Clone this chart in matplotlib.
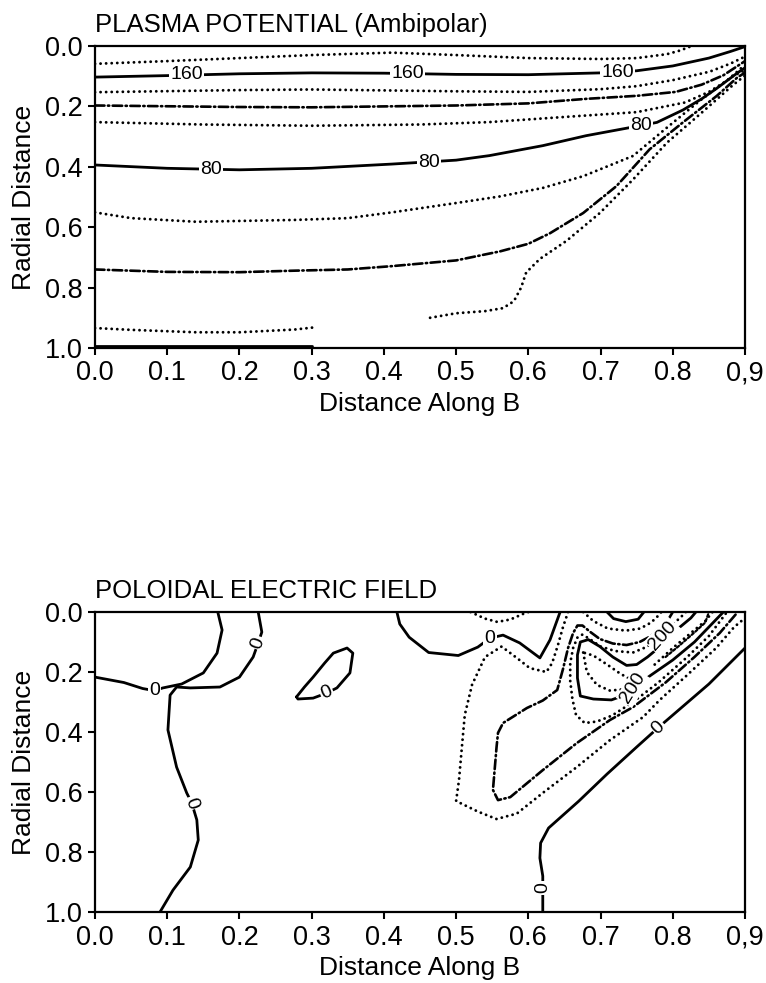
import matplotlib
matplotlib.use('Agg')
import matplotlib.pyplot as plt

plt.rcParams['font.family'] = ['Liberation Sans', 'DejaVu Sans']

# ---------------- PLASMA POTENTIAL (Ambipolar) ----------------
# contour lines: (distance along B, radial distance)
pp_dot_1 = [(0, .059), (.1, .05), (.2, .04), (.3, .03), (.411, .022), (.5, .03), (.6, .04),
            (.7, .043), (.75, .04), (.792, .027), (.81, .015), (.824, .002)]
pp_160 = [(0, .103), (.1, .098), (.2, .092), (.3, .089), (.4, .09), (.5, .094), (.6, .095),
          (.7, .089), (.75, .082), (.8, .066), (.85, .04), (.88, .018), (.9, .002)]
pp_dot_2 = [(0, .153), (.2, .146), (.3, .144), (.5, .15), (.6, .152), (.7, .143), (.75, .133),
            (.8, .113), (.851, .085), (.88, .058), (.9, .035)]
pp_dash_1 = [(0, .197), (.2, .202), (.3, .203), (.5, .197), (.6, .19), (.68, .175), (.75, .165),
             (.804, .152), (.84, .128), (.87, .097), (.9, .05)]
pp_dot_3 = [(0, .252), (.15, .26), (.3, .264), (.45, .26), (.546, .252), (.65, .235), (.75, .219),
            (.817, .187), (.85, .152), (.875, .115), (.9, .062)]
pp_80 = [(0, .394), (.1, .405), (.2, .41), (.3, .405), (.411, .391), (.5, .378), (.546, .363),
         (.62, .33), (.68, .297), (.741, .27), (.778, .253), (.814, .212), (.84, .175),
         (.861, .14), (.889, .09), (.9, .072)]
pp_dot_4 = [(0, .551), (.05, .57), (.14, .582), (.276, .576), (.35, .57), (.411, .551), (.5, .52),
            (.561, .498), (.62, .47), (.676, .431), (.745, .364), (.792, .27), (.838, .18),
            (.883, .1), (.9, .08)]
pp_dash_2 = [(0, .74), (.1, .748), (.2, .749), (.276, .744), (.35, .74), (.411, .729), (.5, .71),
             (.561, .68), (.6, .655), (.63, .62), (.676, .553), (.722, .464), (.768, .342),
             (.814, .253), (.861, .165), (.889, .105), (.9, .088)]
pp_dot_5 = [(.464, .9), (.5, .885), (.54, .878), (.565, .868), (.58, .845), (.59, .8), (.597, .75),
            (.616, .705), (.653, .645), (.699, .553), (.745, .442), (.792, .32), (.838, .225),
            (.883, .13), (.9, .098)]
pp_dot_6 = [(0, .934), (.05, .94), (.14, .948), (.2, .948), (.276, .939), (.303, .932)]
pp_edge = [(0, .995), (.3, .995)]

pp_labels = [(.127, .096, '160', 0), (.433, .092, '160', 0), (.724, .088, '160', 0),
             (.16, .41, '80', 0), (.462, .385, '80', 0), (.756, .264, '80', 0)]

# ---------------- POLOIDAL ELECTRIC FIELD ----------------
ef_zero_a = [(0, .217), (.04, .235), (.066, .255), (.082, .262), (.094, .253), (.12, .24),
             (.15, .203), (.169, .137), (.176, .06), (.17, 0)]
ef_zero_b = [(.226, 0), (.231, .067), (.226, .103), (.219, .15), (.2, .217), (.173, .25),
             (.132, .253), (.113, .25), (.104, .277), (.101, .393), (.113, .517), (.127, .603),
             (.134, .637), (.141, .693), (.143, .76), (.132, .85), (.108, .927), (.09, 1.0)]
ef_zero_c = [(.279, .283), (.29, .25), (.302, .217), (.318, .17), (.33, .137), (.349, .12),
             (.357, .137), (.353, .203), (.335, .253), (.321, .27), (.302, .287), (.281, .29),
             (.279, .283)]
ef_zero_d = [(.418, 0), (.422, .04), (.435, .084), (.462, .135), (.503, .145), (.53, .117),
             (.547, .087), (.565, .077), (.588, .103), (.616, .153), (.63, .093), (.644, 0)]
ef_zero_e = [(.62, 1.0), (.62, .96), (.62, .92), (.62, .88), (.616, .82), (.617, .77),
             (.628, .72), (.67, .63), (.709, .54), (.75, .45), (.78, .385), (.85, .24), (.9, .12)]
ef_dot_top = [(.52, 0), (.54, .022), (.557, .033), (.575, .025), (.594, .005), (.6, 0)]
ef_dot_outer = [(.655, 0), (.648, .05), (.641, .11), (.633, .17), (.625, .2), (.602, .187),
                (.584, .153), (.563, .115), (.54, .15), (.522, .243), (.512, .343), (.508, .45),
                (.504, .56), (.5, .63), (.53, .665), (.556, .69), (.584, .672), (.62, .603),
                (.667, .517), (.713, .427), (.759, .35), (.782, .293), (.82, .21), (.86, .12),
                (.885, .05), (.9, .02)]
ef_dash = [(.8, 0), (.795, .02), (.785, .045), (.77, .08), (.754, .1), (.736, .11), (.717, .105),
           (.699, .09), (.685, .065), (.675, .045), (.668, .045), (.662, .07), (.655, .12),
           (.648, .19), (.64, .26), (.62, .295), (.598, .32), (.565, .37), (.558, .403),
           (.556, .45), (.551, .593), (.558, .627), (.575, .617), (.62, .527), (.667, .437),
           (.713, .36), (.745, .317), (.79, .235), (.83, .15), (.865, .07), (.89, 0)]
ef_dot_mid = [(.818, 0), (.81, .02), (.795, .05), (.78, .085), (.765, .115), (.745, .135),
              (.72, .13), (.7, .115), (.685, .09), (.675, .075), (.668, .085), (.662, .12),
              (.658, .17), (.658, .23), (.661, .29), (.666, .343), (.678, .37), (.695, .365),
              (.716, .345), (.745, .3), (.78, .235), (.82, .15), (.85, .08), (.875, 0)]
ef_200 = [(.87, 0), (.85, .05), (.83, .1), (.8, .16), (.77, .21), (.745, .253), (.73, .28),
          (.715, .293), (.69, .29), (.672, .28), (.668, .22), (.668, .143), (.672, .1),
          (.683, .092), (.699, .115), (.717, .15), (.736, .178), (.75, .175), (.765, .15),
          (.78, .12), (.793, .085), (.81, .05), (.825, .02), (.832, 0)]
ef_dot_inner = [(.676, .135), (.681, .2), (.695, .243), (.713, .262), (.73, .258), (.74, .24),
                (.738, .22), (.727, .205), (.709, .175), (.69, .145), (.676, .135)]
ef_dot_arch = [(.676, 0), (.69, .03), (.71, .055), (.735, .062), (.755, .055), (.77, .035),
               (.78, .012), (.784, 0)]
ef_cap = [(.709, 0), (.718, .022), (.735, .032), (.752, .024), (.76, 0)]
ef_ridge_dot = [(.775, .175), (.8, .12), (.825, .07), (.845, .03), (.855, 0)]
ef_ridge_dash = [(.79, .15), (.81, .11), (.83, .068), (.845, .035), (.85, 0)]

ef_labels = [(.082, .262, '0', 0), (.226, .103, '0', 70), (.321, .27, '0', 23),
             (.134, .637, '0', -70), (.547, .087, '0', 0), (.62, .92, '0', 90),
             (.78, .385, '0', 44), (.786, .078, '200', 48), (.745, .253, '200', 58)]

x_ticks = [0, .1, .2, .3, .4, .5, .6, .7, .8, .9]
x_ticklabels = ['0.0', '0.1', '0.2', '0.3', '0.4', '0.5', '0.6', '0.7', '0.8', '0,9']
y_ticks = [0, .2, .4, .6, .8, 1.0]
y_ticklabels = ['0.0', '0.2', '0.4', '0.6', '0.8', '1.0']

STYLES = {
    'solid': dict(linestyle='-', linewidth=2.0),
    'dot': dict(linestyle=(0, (0.01, 1.9)), linewidth=2.1),
    'dash': dict(linestyle=(0, (3.6, 1.3, 0.5, 1.3)), linewidth=1.9),
    'short': dict(linestyle=(0, (1.2, 1.0)), linewidth=1.6),
}


def draw(ax, pts, style):
    xs = [p[0] for p in pts]
    ys = [p[1] for p in pts]
    ax.plot(xs, ys, color='black', dash_capstyle='round', solid_capstyle='round', **STYLES[style])


def label(ax, items):
    for x, y, s, rot in items:
        ax.text(x, y, s, fontsize=14, rotation=rot, ha='center', va='center',
                rotation_mode='anchor', zorder=5,
                bbox=dict(fc='white', ec='none', pad=0.8))


def setup(ax, title):
    ax.set_xlim(0, 0.9)
    ax.set_ylim(1.0, 0.0)
    ax.set_xticks(x_ticks)
    ax.set_xticklabels(x_ticklabels)
    ax.set_yticks(y_ticks)
    ax.set_yticklabels(y_ticklabels)
    ax.tick_params(direction='out', length=5, width=1.5, labelsize=19.5, pad=4)
    for sp in ax.spines.values():
        sp.set_linewidth(1.6)
    ax.set_xlabel('Distance Along B', fontsize=19)
    ax.set_ylabel('Radial Distance', fontsize=19)
    ax.xaxis.set_label_coords(0.5, -0.145)
    ax.yaxis.set_label_coords(-0.09, 0.5)
    ax.text(0, 1.046, title, transform=ax.transAxes, fontsize=18.5, ha='left', va='baseline')


fig = plt.figure(figsize=(7.66, 9.83), dpi=100)
ax1 = fig.add_axes([0.124, 0.646, 0.8486, 0.3072])
ax2 = fig.add_axes([0.124, 0.0722, 0.8486, 0.3052])

for pts, st in [(pp_dot_1, 'dot'), (pp_160, 'solid'), (pp_dot_2, 'dot'), (pp_dash_1, 'dash'),
                (pp_dot_3, 'dot'), (pp_80, 'solid'), (pp_dot_4, 'dot'), (pp_dash_2, 'dash'),
                (pp_dot_5, 'dot'), (pp_dot_6, 'dot'), (pp_edge, 'solid')]:
    draw(ax1, pts, st)
label(ax1, pp_labels)
setup(ax1, 'PLASMA POTENTIAL (Ambipolar)')

for pts, st in [(ef_zero_a, 'solid'), (ef_zero_b, 'solid'), (ef_zero_c, 'solid'),
                (ef_zero_d, 'solid'), (ef_zero_e, 'solid'), (ef_dot_top, 'dot'),
                (ef_dot_outer, 'dot'), (ef_dash, 'dash'), (ef_dot_mid, 'dot'),
                (ef_200, 'solid'), (ef_dot_inner, 'dot'), (ef_dot_arch, 'dot'),
                (ef_cap, 'solid'), (ef_ridge_dot, 'dot'), (ef_ridge_dash, 'short')]:
    draw(ax2, pts, st)
label(ax2, ef_labels)
setup(ax2, 'POLOIDAL ELECTRIC FIELD')

fig.savefig('out.png', dpi=100)
